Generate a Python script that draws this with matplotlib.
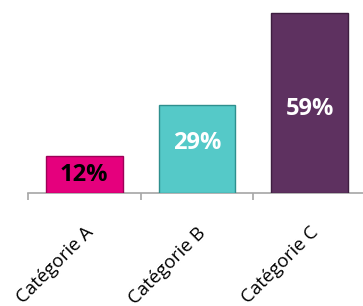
import matplotlib.pyplot as plt
import numpy as np

categories = ["Catégorie A", "Catégorie B", "Catégorie C"]
values = [12, 29, 59]
labels = ["12%", "29%", "59%"]
bar_colors = ["#E5007D", "#55C9C8", "#5E3160"]
edge_colors = ["#9E0057", "#2E8F8E", "#3E1E40"]
label_colors = ["black", "white", "white"]

fig = plt.figure(figsize=(3.63, 3.06), dpi=100)
ax = fig.add_axes([28 / 363, 113 / 306, 338 / 363, 183 / 306])

x = np.arange(len(categories))
bars = ax.bar(x, values, width=0.68, color=bar_colors, edgecolor=edge_colors, linewidth=1.0, zorder=3)

# value labels sit roughly mid-bar, nudged like the original
offsets = [0, 2, -2]
for i, b in enumerate(bars):
    ax.text(b.get_x() + b.get_width() / 2, values[i] / 2 + offsets[i], labels[i],
            ha="center", va="center", fontsize=17, fontweight="bold",
            color=label_colors[i], family="Open Sans", zorder=4)

ax.set_xlim(-0.5, 2.5)
ax.set_ylim(0, 60)
ax.set_yticks([])
for s in ["top", "right", "left"]:
    ax.spines[s].set_visible(False)
ax.spines["bottom"].set_color("#A6A6A6")
ax.spines["bottom"].set_linewidth(1.2)

ax.set_xticks(x)
ax.set_xticklabels(categories, rotation=45, ha="right", rotation_mode="anchor",
                   fontsize=13.5, family="Open Sans")
ax.tick_params(axis="x", which="major", length=0, pad=22)
ax.set_xticks([-0.5, 0.5, 1.5, 2.5], minor=True)
ax.tick_params(axis="x", which="minor", length=5, width=1.2, color="#A6A6A6")

fig.savefig("out.png", dpi=100)
